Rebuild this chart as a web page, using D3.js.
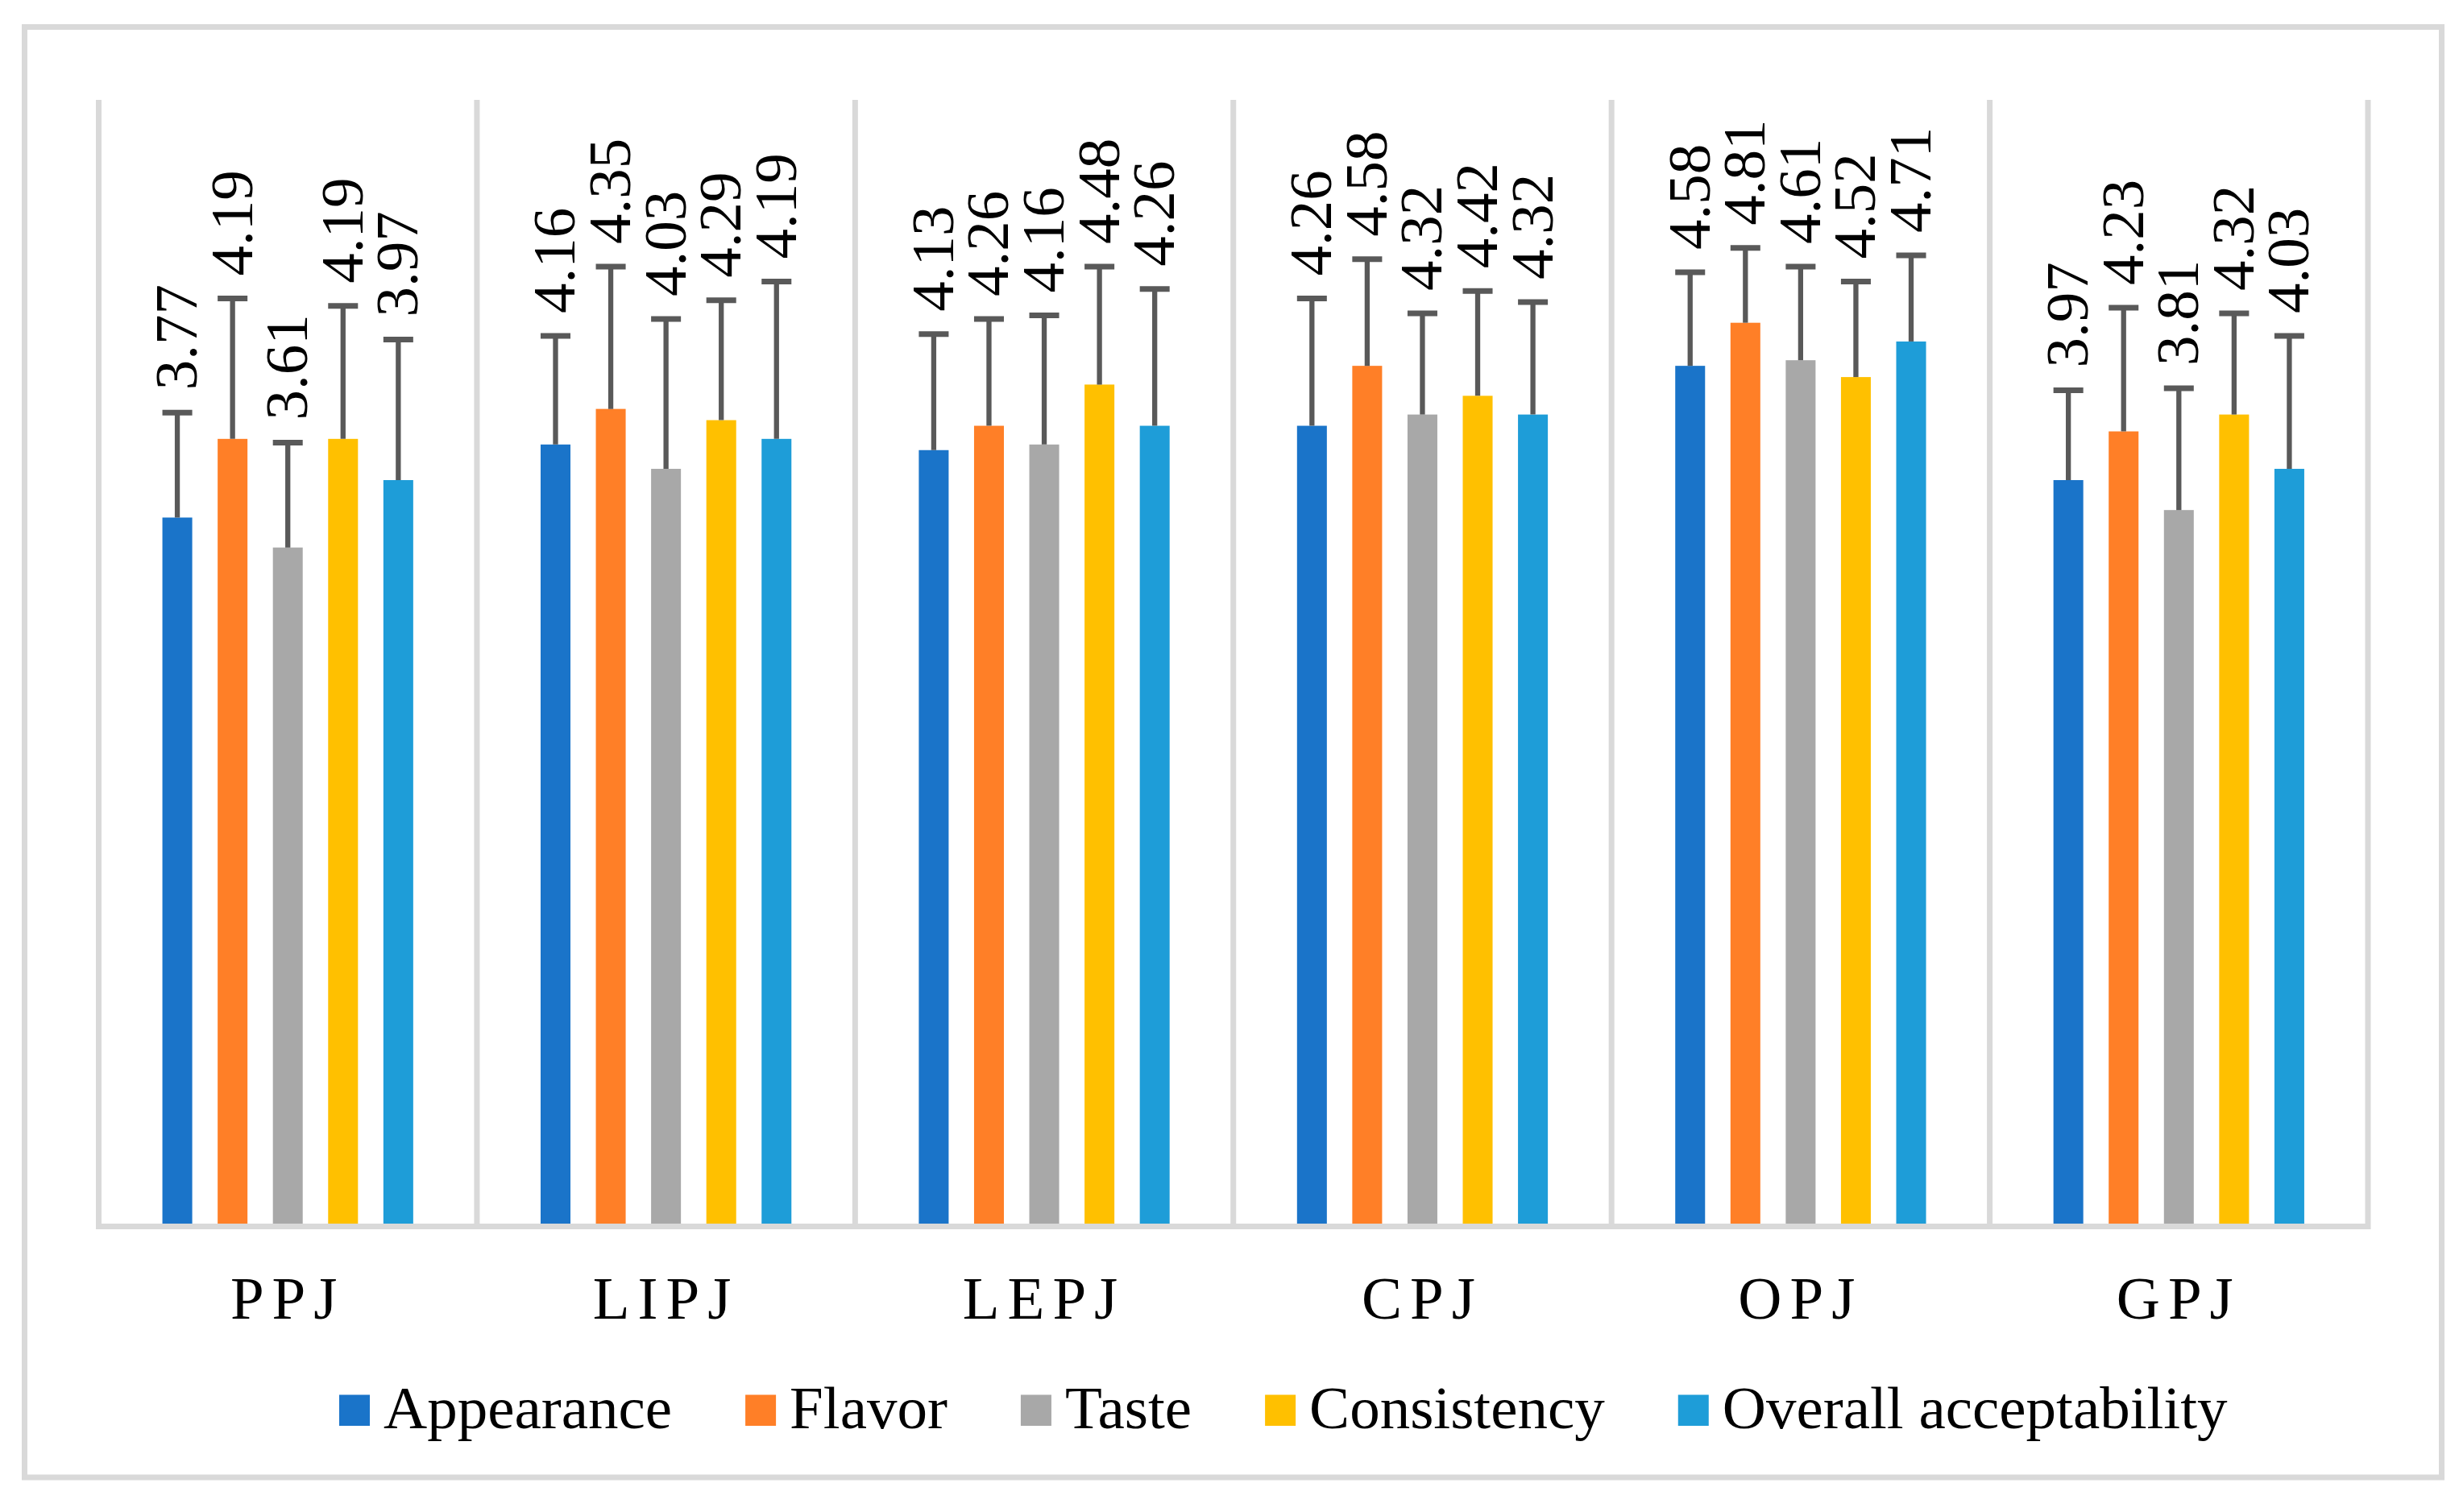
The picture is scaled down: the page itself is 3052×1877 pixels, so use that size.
<!DOCTYPE html>
<html>
<head>
<meta charset="utf-8">
<title>Sensory scores</title>
<script src="https://cdn.jsdelivr.net/npm/d3@7/dist/d3.min.js"></script>
<style>
    html, body { margin: 0; padding: 0; background: #fff; }
    svg { display: block; }
    text { font-family: "Liberation Serif", "Times New Roman", serif; fill: #000; }
</style>
</head>
<body>
<div id="chart"></div>
<script>
;(function(d3){

    'use strict';

    var categories = ['PPJ', 'LIPJ', 'LEPJ', 'CPJ', 'OPJ', 'GPJ'];
    var seriesNames = ['Appearance', 'Flavor', 'Taste', 'Consistency', 'Overall acceptability'];
    var seriesColors = ['#1A74C9', '#FF7F27', '#A8A8A8', '#FFC000', '#1E9DD8'];

    var appearance  = [3.77, 4.16, 4.13, 4.26, 4.58, 3.97];
    var flavor      = [4.19, 4.35, 4.26, 4.58, 4.81, 4.23];
    var taste       = [3.61, 4.03, 4.16, 4.32, 4.61, 3.81];
    var consistency = [4.19, 4.29, 4.48, 4.42, 4.52, 4.32];
    var overall     = [3.97, 4.19, 4.26, 4.32, 4.71, 4.03];

    var appearanceErr  = [0.56, 0.58, 0.62, 0.68, 0.50, 0.48];
    var flavorErr      = [0.75, 0.76, 0.57, 0.57, 0.40, 0.66];
    var tasteErr       = [0.56, 0.80, 0.69, 0.54, 0.50, 0.65];
    var consistencyErr = [0.71, 0.64, 0.63, 0.56, 0.51, 0.54];
    var overallErr     = [0.75, 0.84, 0.73, 0.60, 0.46, 0.71];

    var yDomain = [0, 6];

    var values = [appearance, flavor, taste, consistency, overall];
    var errors = [appearanceErr, flavorErr, tasteErr, consistencyErr, overallErr];

    var W = 3052, H = 1877;
    var plot = {left: 122.5, right: 2939, top: 124, bottom: 1519};
    var gridColor = '#D9D9D9';

    var rows = [];
    categories.forEach(function(c, i){
        seriesNames.forEach(function(s, j){
            rows.push({cat: c, series: s, idx: j, value: values[j][i], err: errors[j][i]});
        });
    });

    var svg = d3.select('#chart')
                .append('svg')
                .attr('width', W)
                .attr('height', H);

    svg.append('rect').attr('width', W).attr('height', H).attr('fill', '#fff');

    // outer chart border
    svg.append('rect')
        .attr('x', 30.5).attr('y', 33.5)
        .attr('width', 3000).attr('height', 1800.5)
        .attr('fill', 'none')
        .attr('stroke', gridColor)
        .attr('stroke-width', 7);

    var x0 = d3.scaleBand()
        .domain(categories)
        .range([plot.left, plot.right])
        .paddingInner(0).paddingOuter(0);

    var x1 = d3.scaleBand()
        .domain(seriesNames)
        .range([0, x0.bandwidth()])
        .paddingInner(0.46)
        .paddingOuter(1.153);

    var y = d3.scaleLinear()
        .domain(yDomain)
        .range([plot.bottom, plot.top]);

    // vertical gridlines at category boundaries
    var bounds = categories.map(function(c){ return x0(c); }).concat([plot.right]);
    svg.append('g').selectAll('line')
        .data(bounds)
        .enter().append('line')
        .attr('x1', function(d){ return d; })
        .attr('x2', function(d){ return d; })
        .attr('y1', plot.top)
        .attr('y2', plot.bottom)
        .attr('stroke', gridColor)
        .attr('stroke-width', 7);

    // bars
    var bars = svg.append('g');
    bars.selectAll('rect')
        .data(rows)
        .enter().append('rect')
        .attr('x', function(d){ return x0(d.cat) + x1(d.series); })
        .attr('y', function(d){ return y(d.value); })
        .attr('width', x1.bandwidth())
        .attr('height', function(d){ return y(0) - y(d.value); })
        .attr('fill', function(d){ return seriesColors[d.idx]; });

    // category axis line
    svg.append('line')
        .attr('x1', plot.left - 3.5).attr('x2', plot.right + 3.5)
        .attr('y1', plot.bottom + 3.5).attr('y2', plot.bottom + 3.5)
        .attr('stroke', gridColor)
        .attr('stroke-width', 7);

    // error bars
    var errG = svg.append('g').attr('stroke', '#595959');
    errG.selectAll('line.stem')
        .data(rows)
        .enter().append('line')
        .attr('class', 'stem')
        .attr('x1', function(d){ return x0(d.cat) + x1(d.series) + x1.bandwidth() / 2; })
        .attr('x2', function(d){ return x0(d.cat) + x1(d.series) + x1.bandwidth() / 2; })
        .attr('y1', function(d){ return y(d.value); })
        .attr('y2', function(d){ return y(d.value + d.err); })
        .attr('stroke-width', 6.3);

    errG.selectAll('line.cap')
        .data(rows)
        .enter().append('line')
        .attr('class', 'cap')
        .attr('x1', function(d){ return x0(d.cat) + x1(d.series); })
        .attr('x2', function(d){ return x0(d.cat) + x1(d.series) + x1.bandwidth(); })
        .attr('y1', function(d){ return y(d.value + d.err); })
        .attr('y2', function(d){ return y(d.value + d.err); })
        .attr('stroke-width', 7);

    // rotated value labels above the caps
    svg.append('g').selectAll('text')
        .data(rows)
        .enter().append('text')
        .attr('transform', function(d){
            var cx = x0(d.cat) + x1(d.series) + x1.bandwidth() / 2;
            var cy = y(d.value + d.err) - 28;
            return 'translate(' + cx + ',' + cy + ') rotate(-90)';
        })
        .attr('dy', 24)
        .attr('font-size', 75)
        .text(function(d){ return d3.format('.2f')(d.value); });

    // category labels
    svg.append('g').selectAll('text')
        .data(categories)
        .enter().append('text')
        .attr('x', function(d){ return x0(d) + x0.bandwidth() / 2; })
        .attr('y', 1637)
        .attr('text-anchor', 'middle')
        .attr('font-size', 75)
        .attr('letter-spacing', 10)
        .text(function(d){ return d; });

    // legend
    var legend = svg.append('g');
    var lx = 421, sw = 38, gapIn = 17, gapOut = 91;
    seriesNames.forEach(function(s, j){
        legend.append('rect')
            .attr('x', lx).attr('y', 1731.5)
            .attr('width', sw).attr('height', 38.5)
            .attr('fill', seriesColors[j]);
        var t = legend.append('text')
            .attr('x', lx + sw + gapIn)
            .attr('y', 1773)
            .attr('font-size', 75)
            .text(s);
        lx += sw + gapIn + t.node().getComputedTextLength() + gapOut;
    });

}(window.d3));
</script>
</body>
</html>
